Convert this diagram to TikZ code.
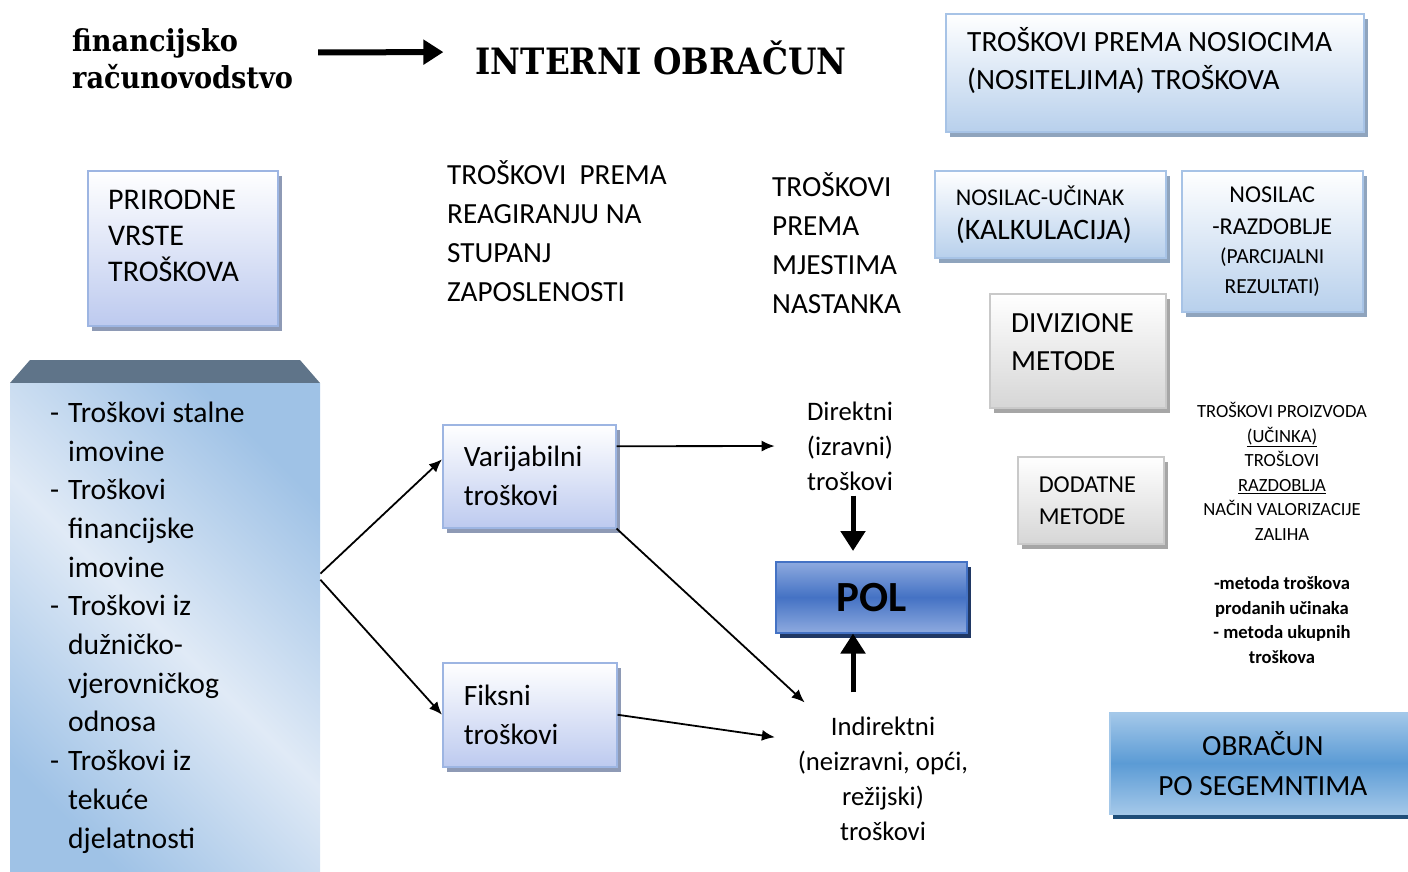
\documentclass[tikz,border=0pt]{standalone}
\usepackage{fontspec}
\setmainfont{Carlito}
\IfFontExistsTF{DejaVu Serif Condensed}
  {\newfontfamily\slabfont{DejaVu Serif Condensed}\newcommand{\finsize}{30.2}\newcommand{\intsize}{36.3}}
  {\newfontfamily\slabfont{DejaVu Serif}\newcommand{\finsize}{27.5}\newcommand{\intsize}{33}}
\usetikzlibrary{shadows,arrows.meta}

\definecolor{boxblue}{HTML}{B8D0EC}
\definecolor{boxedge}{HTML}{A7C3E6}
\definecolor{shadeblue}{HTML}{8FA4BD}
\definecolor{lavblue}{HTML}{BDCAEF}
\definecolor{lavedge}{HTML}{9DB5E2}
\definecolor{shadelav}{HTML}{8E9AB5}
\definecolor{boxgray}{HTML}{D6D6D6}
\definecolor{grayedge}{HTML}{C9C9C9}
\definecolor{shadegray}{HTML}{A6A6A6}
\definecolor{polmid}{HTML}{4472C4}
\definecolor{poledge}{HTML}{8EAADF}
\definecolor{polshade}{HTML}{203864}
\definecolor{segmid}{HTML}{5B9BD5}
\definecolor{segedge}{HTML}{A4C8E9}
\definecolor{segshade}{HTML}{1F4E79}
\definecolor{listhead}{HTML}{5F7489}
\definecolor{listblue}{HTML}{9FC2E6}
\definecolor{listlight}{HTML}{E0EAF6}

\newcommand{\fsz}[2]{\fontsize{#1}{#2}\selectfont}

\tikzstyle{bluebox}=[draw=boxedge, line width=1.5pt,
                        top color=white, bottom color=boxblue,
                        drop shadow={shadow xshift=4pt, shadow yshift=-5pt, fill=shadeblue, opacity=1}]
\tikzstyle{lavbox}=[draw=lavedge, line width=1.5pt,
                        top color=white, bottom color=lavblue,
                        drop shadow={shadow xshift=4pt, shadow yshift=-5pt, fill=shadelav, opacity=1}]
\tikzstyle{graybox}=[draw=grayedge, line width=1.5pt,
                        top color=white, bottom color=boxgray,
                        drop shadow={shadow xshift=4pt, shadow yshift=-5pt, fill=shadegray, opacity=1}]
\tikzstyle{polbox}=[draw=polmid, line width=1.5pt,
                        top color=poledge, bottom color=poledge, middle color=polmid,
                        drop shadow={shadow xshift=4pt, shadow yshift=-5pt, fill=polshade, opacity=1}]
\tikzstyle{segbox}=[draw=segedge, line width=1.5pt,
                        top color=segedge, bottom color=segedge, middle color=segmid,
                        drop shadow={shadow xshift=3pt, shadow yshift=-5pt, fill=segshade, opacity=1}]
\tikzstyle{plain}=[inner sep=0pt, align=left]
\tikzstyle{arrowline}=[-{Latex[length=13pt,width=11pt]}, line width=1.8pt]
\tikzstyle{fatarrow}=[-{Triangle[length=20pt,width=24pt]}, line width=5pt]

\begin{document}
\begin{tikzpicture}[x=1pt,y=-1pt]
  \useasboundingbox (0,0) rectangle (1408,871);

  % heading
  \node (fin) [plain, anchor=west, font=\slabfont\bfseries\fsz{\finsize}{37}] at (72,58.5) {financijsko\\računovodstvo};
  \node (intern) [plain, font=\slabfont\bfseries\fsz{\intsize}{40}] at (661,58) {INTERNI OBRAČUN};
  \draw[fatarrow, line width=6pt, shorten <=25pt, shorten >=32pt] ([yshift=6pt]fin.east) -- ([yshift=6pt]intern.west);

  % boxes
  \node (nosioci) [bluebox, anchor=north west, minimum width=418pt, minimum height=118pt] at (945,13) {};
  \node (nosiocitxt) [plain, anchor=west, font=\fsz{29.4}{38}] at ([shift={(22,48)}]nosioci.north west)
        {TROŠKOVI PREMA NOSIOCIMA\\(NOSITELJIMA) TROŠKOVA};

  \node (prirodne) [lavbox, anchor=north west, minimum width=190pt, minimum height=155pt] at (87,170) {};
  \node (prirodnetxt) [plain, anchor=west, font=\fsz{30}{36}] at ([shift={(21,66)}]prirodne.north west)
        {PRIRODNE\\VRSTE\\TROŠKOVA};

  \node (reag) [plain, anchor=west, font=\fsz{29.2}{39}] at (447,231.5)
        {TROŠKOVI\ \ PREMA\\REAGIRANJU NA\\STUPANJ\\ZAPOSLENOSTI};
  \node (mjesta) [plain, anchor=west, font=\fsz{29.2}{39}] at (772,243.5)
        {TROŠKOVI\\PREMA\\MJESTIMA\\NASTANKA};

  \node (ucinak) [bluebox, anchor=north west, minimum width=231pt, minimum height=87pt,
        text width=189pt, inner xsep=21pt, align=left, font=\fsz{29.7}{34}] at (934,170)
        {{\fsz{24}{34}NOSILAC-UČINAK}\\(KALKULACIJA)};
  \node (razdoblje) [bluebox, anchor=north west, minimum width=181pt, minimum height=141pt,
        align=center, font=\fsz{24.2}{29.5}] at (1181,170)
        {NOSILAC\\[2.5pt]-RAZDOBLJE\\{\fsz{21.5}{29.5}(PARCIJALNI}\\{\fsz{21.5}{29.5}REZULTATI)}};

  \node (diviz) [graybox, anchor=north west, minimum width=176pt, minimum height=114pt] at (989,293) {};
  \node (diviztxt) [plain, anchor=west, font=\fsz{29.2}{38}] at ([shift={(22,49)}]diviz.north west)
        {DIVIZIONE\\METODE};
  \node (dodat) [graybox, anchor=north west, minimum width=146pt, minimum height=87pt,
        text width=104pt, inner xsep=21pt, align=left, font=\fsz{24.3}{32}] at (1017,456)
        {DODATNE\\METODE};

  \node (metode) [plain, align=center, font=\fsz{18.6}{24.6}] at (1282,533)
        {TROŠKOVI PROIZVODA\\\underline{(UČINKA)}\\TROŠLOVI\\\underline{RAZDOBLJA}\\NAČIN VALORIZACIJE\\ZALIHA\\[24.6pt]
         \textbf{-metoda troškova}\\\textbf{prodanih učinaka}\\\textbf{- metoda ukupnih}\\\textbf{troškova}};

  % natural kinds list
  \fill[listhead] (10,383) -- (30,360) -- (300,360) -- (320,383) -- cycle;
  \node (kinds) [anchor=north west, minimum width=310pt, minimum height=500pt,
        left color=listblue, right color=listblue, middle color=listlight, shading angle=-45] at (10,383) {};
  \node (kindstxt) [plain, anchor=north west, font=\fsz{29.6}{38.7}] at (50,395)
        {\begin{tabular}{@{}p{18pt}@{}l@{}}
          - & Troškovi stalne\\ & imovine\\
          - & Troškovi\\ & financijske\\ & imovine\\
          - & Troškovi iz\\ & dužničko-\\ & vjerovničkog\\ & odnosa\\
          - & Troškovi iz\\ & tekuće\\ & djelatnosti
         \end{tabular}};

  \node (var) [lavbox, anchor=north west, minimum width=173pt, minimum height=103pt,
        text width=131pt, inner xsep=21pt, align=left, font=\fsz{29.5}{39}] at (442,424) {Varijabilni\\troškovi};
  \node (fik) [lavbox, anchor=north west, minimum width=174pt, minimum height=104pt,
        text width=132pt, inner xsep=21pt, align=left, font=\fsz{29.5}{39}] at (442,662) {Fiksni\\troškovi};

  \node (dir) [plain, align=center, font=\fsz{26.7}{35}] at (850,446) {Direktni\\(izravni)\\troškovi};
  \node (ind) [plain, align=center, font=\fsz{26.7}{35}] at (883,778.5) {Indirektni\\(neizravni, opći,\\režijski)\\troškovi};

  \node (pol) [polbox, anchor=north west, minimum width=191pt, minimum height=71pt,
        font=\fsz{43}{43}\bfseries] at (775,561) {POL};
  \node (segment) [segbox, anchor=north west, minimum width=306pt, minimum height=101pt,
        align=center, font=\fsz{29.3}{40}] at (1109,712) {OBRAČUN\\PO SEGEMNTIMA};

  % connections
  \draw[arrowline] (kinds.21) -- (var.169);
  \draw[arrowline] (kinds.19) -- (fik.west);
  \draw[arrowline, shorten >=32pt] (var.19) -- (dir.west);
  \draw[arrowline] (var.south east) -- ([xshift=7pt,yshift=14pt]ind.north west);
  \draw[arrowline, shorten >=23pt] (fik.east) -- (ind.156);
  \draw[fatarrow, shorten <=5pt, shorten >=10pt] ([xshift=3pt]dir.south) -- ([xshift=3pt]dir.south |- pol.north);
  \draw[fatarrow, shorten <=24pt] ([xshift=3pt]dir.south |- ind.north) -- ([xshift=3pt]dir.south |- pol.south);

\end{tikzpicture}
\end{document}
